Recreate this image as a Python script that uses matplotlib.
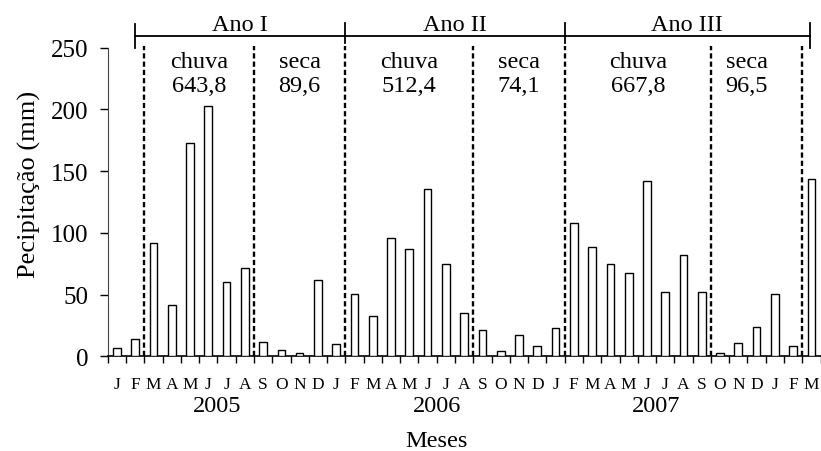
import matplotlib

matplotlib.use('Agg')
import matplotlib.pyplot as plt
import numpy as np

plt.rcParams['font.family'] = ['Liberation Serif', 'DejaVu Serif']

# meses de jan/2005 a mar/2008
meses = ['J', 'F', 'M', 'A', 'M', 'J', 'J', 'A', 'S', 'O', 'N', 'D'] * 3 + ['J', 'F', 'M']
precipitacao = [6.9, 13.7, 91.6, 41.9, 173, 203, 60.5, 71.5, 11.5, 5.4, 2.4, 61.5,
                9.9, 50.8, 32.8, 95.7, 87.3, 135.5, 74.7, 35.2, 21.2, 4.2, 17.6, 8.4,
                23.2, 108, 88.4, 74.7, 67.7, 142.2, 51.9, 82, 52.4, 2.9, 11, 23.9,
                50.8, 8.6, 143.5]
anos = ['2005', '2006', '2007']

# periodos (indice do mes onde comeca cada estacao)
inicio_estacao = [2, 8, 13, 20, 25, 33, 38]
estacoes = ['chuva', 'seca', 'chuva', 'seca', 'chuva', 'seca']
totais = ['643,8', '89,6', '512,4', '74,1', '667,8', '96,5']
anos_hidro = ['Ano I', 'Ano II', 'Ano III']
limites_ano = [1, 12.5, 24.5, 37.9]

fig = plt.figure(figsize=(8.21, 4.52), dpi=100)
ax = fig.add_axes([0.1312, 0.2095, 0.8683, 0.6828])

x = np.arange(len(precipitacao))
ax.bar(x, precipitacao, 0.42, color='white', edgecolor='black', linewidth=1.0, zorder=3)

ax.set_xlim(-0.5, len(precipitacao) - 0.5)
ax.set_ylim(0, 250)
ax.set_yticks([0, 50, 100, 150, 200, 250])
ax.tick_params(axis='y', direction='out', length=6, width=1, labelsize=18, pad=8)

# ticks nas divisas dos meses, rotulos no meio
ax.set_xticks(np.arange(-0.5, len(precipitacao) + 0.5, 1))
ax.set_xticklabels([])
ax.tick_params(axis='x', which='major', direction='out', length=5, width=1)
ax.set_xticks(x, minor=True)
ax.set_xticklabels(meses, minor=True, fontsize=12.5)
ax.tick_params(axis='x', which='minor', length=0, pad=14)

for s in ['top', 'right']:
    ax.spines[s].set_visible(False)
ax.spines['left'].set_color('#444444')
ax.spines['bottom'].set_linewidth(1.2)

# linhas pontilhadas das estacoes
for k in inicio_estacao:
    ax.plot([k - 0.5, k - 0.5], [0, 251], color='black', linestyle=(0, (2.2, 1.3)),
            linewidth=1.7, clip_on=False, zorder=4)

# textos das estacoes
for i in range(len(estacoes)):
    a = inicio_estacao[i] - 0.5
    b = inicio_estacao[i + 1] - 0.5
    cx = (a + b) / 2
    if i == 5:
        cx = 34.45
    ax.text(cx, 238.5, estacoes[i], ha='center', va='center', fontsize=17.5)
    ax.text(cx, 219.5, totais[i], ha='center', va='center', fontsize=17.5)

# chave dos anos hidrologicos
ax.plot([limites_ano[0], limites_ano[-1]], [259.5, 259.5], color='black', linewidth=1.3, clip_on=False)
ax.plot([limites_ano[0]] * 2, [250, 269], color='black', linewidth=1.3, clip_on=False)
ax.plot([limites_ano[-1]] * 2, [250, 270], color='black', linewidth=1.3, clip_on=False)
for lim in limites_ano[1:-1]:
    ax.plot([lim, lim], [254, 270], color='black', linewidth=1.3, clip_on=False)
for i in range(len(anos_hidro)):
    cx = (limites_ano[i] + limites_ano[i + 1]) / 2
    ax.text(cx, 269, anos_hidro[i], ha='center', va='center', fontsize=17.5)

for i in range(len(anos)):
    ax.text(12 * i + 5.5, -40, anos[i], ha='center', va='center', fontsize=17.5)
ax.text(17.5, -68, 'Meses', ha='center', va='center', fontsize=17.5)

ax.set_ylabel('Pecipitação (mm)', fontsize=19)
ax.yaxis.set_label_coords(-0.094, 0.56)

plt.savefig('out.png', dpi=100)
plt.close()
